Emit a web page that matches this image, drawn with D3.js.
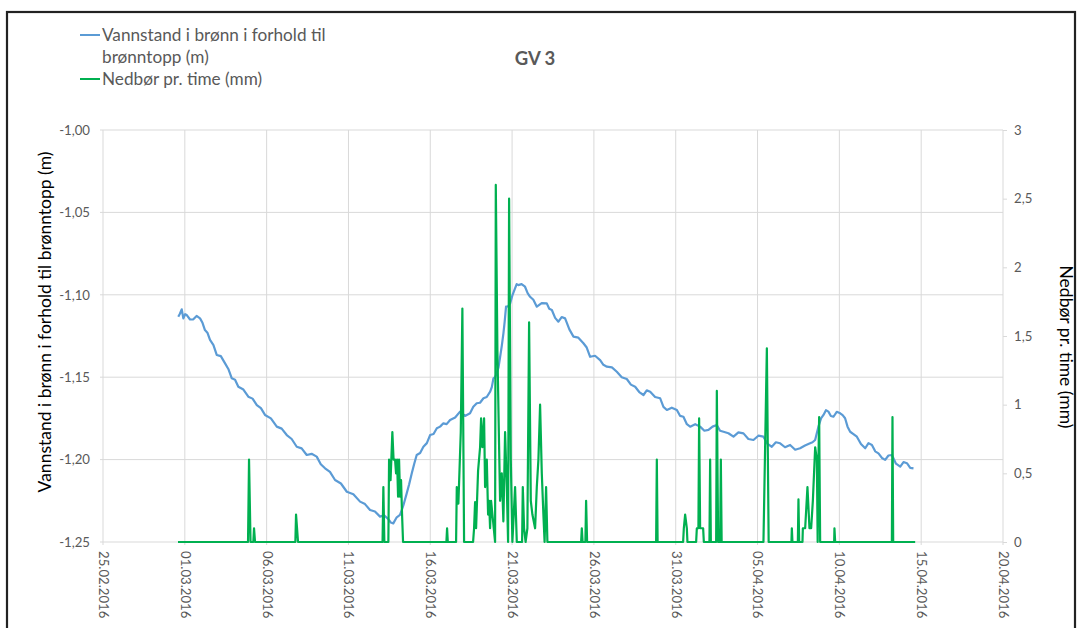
<!DOCTYPE html>
<html>
<head>
<meta charset="utf-8">
<script src="https://cdn.jsdelivr.net/npm/d3@7"></script>
<style>
  body { margin: 0; background: #fff; }
  svg { display: block; font-family: Lato, "Open Sans", sans-serif; }
</style>
</head>
<body>
<div id="chart"></div>
<script>
const chartTitle = 'GV 3';
const levelName = 'Vannstand i brønn i forhold til brønntopp (m)';
const rainName = 'Nedbør pr. time (mm)';
const legendLines = [['Vannstand i brønn i forhold til', 'brønntopp (m)'], ['Nedbør pr. time (mm)']];

const startDate = '25.02.2016';
const dateTicks = ['25.02.2016', '01.03.2016', '06.03.2016', '11.03.2016', '16.03.2016', '21.03.2016',
  '26.03.2016', '31.03.2016', '05.04.2016', '10.04.2016', '15.04.2016', '20.04.2016'];
const levelTicks = [-1.25, -1.20, -1.15, -1.10, -1.05, -1.00];
const rainTicks = [0, 0.5, 1, 1.5, 2, 2.5, 3];

// time in days after 25.02.2016 00:00
const levelDays = [
  4.60, 4.70, 4.81, 4.91, 5.02, 5.12, 5.32, 5.52, 5.72, 5.93, 6.08, 6.23, 6.38, 6.54, 6.75, 6.95,
  7.20, 7.46, 7.66, 7.87, 8.07, 8.27, 8.58, 8.88, 9.14, 9.40, 9.65, 9.90, 10.26, 10.62, 10.92, 11.23,
  11.53, 11.84, 12.14, 12.45, 12.75, 13.06, 13.31, 13.57, 13.87, 14.18, 14.54, 14.90, 15.30, 15.71,
  16.01, 16.32, 16.62, 16.93, 17.18, 17.44, 17.59, 17.74, 17.95, 18.15, 18.35, 18.56, 18.71, 18.87,
  19.02, 19.17, 19.38, 19.58, 19.79, 19.99, 20.20, 20.40, 20.60, 20.80, 21.00, 21.21, 21.52, 21.82,
  22.12, 22.43, 22.63, 22.84, 23.04, 23.25, 23.45, 23.66, 23.76, 23.86, 23.96, 24.06, 24.17, 24.27,
  24.37, 24.47, 24.55, 24.63, 24.75, 24.88, 25.03, 25.18, 25.28, 25.38, 25.58, 25.79, 25.95, 26.10,
  26.30, 26.51, 26.81, 27.12, 27.27, 27.43, 27.63, 27.83, 28.03, 28.24, 28.50, 28.75, 29.05, 29.36,
  29.56, 29.77, 30.07, 30.38, 30.58, 30.79, 31.10, 31.40, 31.70, 32.01, 32.26, 32.52, 32.77, 33.03,
  33.23, 33.44, 33.74, 34.05, 34.25, 34.46, 34.76, 35.07, 35.27, 35.47, 35.68, 35.88, 36.19, 36.49,
  36.75, 37.00, 37.25, 37.51, 37.71, 37.92, 38.22, 38.53, 38.83, 39.14, 39.44, 39.75, 40.05, 40.36,
  40.61, 40.87, 41.12, 41.38, 41.68, 41.99, 42.30, 42.60, 42.90, 43.21, 43.36, 43.52, 43.62, 43.72,
  43.88, 44.03, 44.18, 44.33, 44.48, 44.64, 44.84, 45.05, 45.20, 45.35, 45.50, 45.66, 45.86, 46.07,
  46.32, 46.58, 46.78, 46.99, 47.19, 47.39, 47.60, 47.80, 48.00, 48.21, 48.46, 48.72, 48.92, 49.13,
  49.33, 49.53
];
const levelValues = [
  -1.1133, -1.1115, -1.1088, -1.1143, -1.1118, -1.1123, -1.1150, -1.1149, -1.1128, -1.1143, -1.1170, -1.1214, -1.1230, -1.1274, -1.1305, -1.1365,
  -1.1372, -1.1416, -1.1450, -1.1507, -1.1515, -1.1558, -1.1575, -1.1618, -1.1630, -1.1669, -1.1688, -1.1729, -1.1750, -1.1800, -1.1812, -1.1851,
  -1.1875, -1.1922, -1.1932, -1.1972, -1.1965, -1.1982, -1.2028, -1.2053, -1.2075, -1.2124, -1.2145, -1.2195, -1.2210, -1.2255,
  -1.2270, -1.2306, -1.2315, -1.2346, -1.2338, -1.2362, -1.2382, -1.2387, -1.2350, -1.2336, -1.2280, -1.2205, -1.2150, -1.2083,
  -1.2025, -1.1972, -1.1960, -1.1922, -1.1900, -1.1851, -1.1845, -1.1810, -1.1800, -1.1780, -1.1785, -1.1760, -1.1745, -1.1709,
  -1.1735, -1.1719, -1.1680, -1.1658, -1.1655, -1.1628, -1.1620, -1.1588, -1.1560, -1.1507, -1.1500, -1.1476, -1.1440, -1.1376,
  -1.1310, -1.1234, -1.1160, -1.1072, -1.1070, -1.1052, -1.1000, -1.0961, -1.0935, -1.0941, -1.0935, -1.0951, -1.0990, -1.1012,
  -1.1030, -1.1072, -1.1050, -1.1052, -1.1085, -1.1092, -1.1140, -1.1163, -1.1135, -1.1143, -1.1210, -1.1254, -1.1260, -1.1294,
  -1.1320, -1.1376, -1.1370, -1.1396, -1.1425, -1.1436, -1.1440, -1.1467, -1.1500, -1.1511, -1.1545, -1.1558, -1.1590, -1.1608,
  -1.1580, -1.1588, -1.1620, -1.1628, -1.1680, -1.1699, -1.1685, -1.1699, -1.1735, -1.1740, -1.1785, -1.1800, -1.1785, -1.1800,
  -1.1825, -1.1820, -1.1800, -1.1790, -1.1825, -1.1831, -1.1840, -1.1861, -1.1835, -1.1841, -1.1875, -1.1881, -1.1855, -1.1861,
  -1.1905, -1.1922, -1.1895, -1.1901, -1.1925, -1.1911, -1.1940, -1.1931, -1.1915, -1.1901, -1.1895, -1.1881, -1.1840, -1.1800,
  -1.1750, -1.1729, -1.1700, -1.1709, -1.1735, -1.1740, -1.1710, -1.1719, -1.1730, -1.1749, -1.1800, -1.1831, -1.1845, -1.1861,
  -1.1905, -1.1931, -1.1900, -1.1911, -1.1950, -1.1962, -1.1990, -1.2002, -1.1975, -1.1972, -1.2025, -1.2043, -1.2015, -1.2022,
  -1.2050, -1.2053
];

const rainDays = [
  4.584, 8.863, 8.924, 9.016, 9.187, 9.230, 9.291, 11.755, 11.797, 11.858, 11.919,
  17.084, 17.133, 17.194, 17.439, 17.482, 17.573, 17.683, 17.757, 17.848, 17.910, 17.971, 18.032, 18.093, 18.154, 18.215, 18.276, 18.337,
  20.985, 21.027, 21.070, 21.577, 21.620, 21.718, 21.864, 21.962, 22.066,
  22.616, 22.677, 22.738, 22.800, 22.922, 23.044, 23.105, 23.185, 23.289, 23.350, 23.454, 23.533, 23.594, 23.655, 23.716, 23.839, 23.961,
  24.004, 24.102, 24.205, 24.266, 24.370, 24.468, 24.572, 24.676, 24.756, 24.817, 24.921, 25.018, 25.183, 25.287,
  25.611, 25.654, 25.733, 25.825, 25.935, 26.039, 26.143, 26.241, 26.406, 26.510, 26.608, 26.711, 26.815, 26.913, 26.986, 27.078, 27.158,
  29.218, 29.261, 29.309, 29.480, 29.523, 29.584, 33.802, 33.845, 33.893,
  35.452, 35.495, 35.575, 35.679, 35.716, 36.247, 36.290, 36.387, 36.430, 36.491, 36.675, 36.718,
  37.060, 37.103, 37.146, 37.470, 37.512, 37.592, 37.714, 37.757, 37.806, 40.361, 40.569, 40.679,
  42.072, 42.096, 42.133, 42.463, 42.500, 42.543, 42.745, 42.769, 42.910, 43.050, 43.173, 43.276, 43.380, 43.521, 43.625, 43.674, 43.723, 43.765, 43.826,
  44.682, 44.700, 44.743, 48.209, 48.246, 48.289, 49.633
];
const rainValues = [
  0, 0, 0.6, 0, 0, 0.1, 0, 0, 0.2, 0.1, 0,
  0, 0.4, 0, 0, 0.6, 0.45, 0.8, 0.6, 0.6, 0.5, 0.6, 0.33, 0.6, 0.33, 0.45, 0.2, 0,
  0, 0.1, 0, 0, 0.4, 0.28, 0.8, 1.7, 0,
  0, 0.1, 0.29, 0.1, 0.52, 0.69, 0.9, 0.69, 0.9, 0.4, 0.6, 0.2, 0.3, 0.1, 0.3, 0.15, 0,
  2.6, 1.4, 0.7, 0.3, 0.5, 0.15, 0.8, 0.4, 0, 2.5, 0.6, 0, 0.4, 0,
  0, 0.4, 0.1, 0, 0.1, 1.6, 0.3, 0.2, 0.1, 0.4, 0.6, 1.0, 0.5, 0.2, 0, 0.4, 0,
  0, 0.1, 0, 0, 0.3, 0, 0, 0.6, 0,
  0, 0.1, 0.2, 0.1, 0, 0, 0.1, 0.1, 0.9, 0.1, 0.1, 0,
  0, 0.6, 0, 0, 1.1, 0, 0, 0.6, 0, 0, 1.41, 0,
  0, 0.1, 0, 0, 0.31, 0, 0, 0.1, 0.1, 0.4, 0.1, 0.1, 0.3, 0.69, 0.6, 0, 0.6, 0.91, 0,
  0, 0.1, 0, 0, 0.91, 0, 0
];

const width = 1080;
const height = 628;
const margins = { top: 130, right: 77, bottom: 86, left: 103 };
const plotW = width - margins.left - margins.right;
const plotH = height - margins.top - margins.bottom;

const textColor = '#595959';
const gridColor = '#d9d9d9';
const blue = '#5b9bd5';
const green = '#00b050';

const nb = d3.formatLocale({ decimal: ',', thousands: ' ', grouping: [3], currency: ['', ' kr'], minus: '-' });
const parseDate = d3.utcParse('%d.%m.%Y');
const t0 = parseDate(startDate);
const dayToDate = d => new Date(t0.getTime() + d * 864e5);

const levelData = levelDays.map((d, i) => ({ date: dayToDate(d), value: levelValues[i] }));
const rainData = rainDays.map((d, i) => ({ date: dayToDate(d), value: rainValues[i] }));
const tickDates = dateTicks.map(parseDate);

const svg = d3.select('#chart')
  .append('svg')
  .attr('width', width)
  .attr('height', height);

// frame
svg.append('rect')
  .attr('x', 7).attr('y', 12)
  .attr('width', 1068).attr('height', 640)
  .attr('fill', 'none')
  .attr('stroke', '#222')
  .attr('stroke-width', 2.2);

const g = svg.append('g')
  .attr('transform', `translate(${margins.left},${margins.top})`);

const x = d3.scaleUtc()
  .domain([tickDates[0], tickDates[tickDates.length - 1]])
  .range([0, plotW]);

const yLeft = d3.scaleLinear()
  .domain([-1.25, -1.00])
  .range([plotH, 0]);

const yRight = d3.scaleLinear()
  .domain([0, 3])
  .range([plotH, 0]);

// grid
g.append('g')
  .selectAll('line')
  .data(levelTicks)
  .enter()
  .append('line')
  .attr('x1', -3).attr('x2', plotW)
  .attr('y1', d => yLeft(d)).attr('y2', d => yLeft(d))
  .attr('stroke', gridColor)
  .attr('stroke-width', 1);

g.append('g')
  .selectAll('line')
  .data(tickDates)
  .enter()
  .append('line')
  .attr('x1', d => x(d)).attr('x2', d => x(d))
  .attr('y1', 0).attr('y2', plotH + 3)
  .attr('stroke', gridColor)
  .attr('stroke-width', 1);

// axes
const leftAxis = g.append('g')
  .call(d3.axisLeft(yLeft).tickValues(levelTicks).tickFormat(nb.format('.2f')).tickSize(0).tickPadding(13));

const rightAxis = g.append('g')
  .attr('transform', `translate(${plotW},0)`)
  .call(d3.axisRight(yRight).tickValues(rainTicks).tickFormat(nb.format('~g')).tickSize(4).tickPadding(7));

const bottomAxis = g.append('g')
  .attr('transform', `translate(0,${plotH})`)
  .call(d3.axisBottom(x).tickValues(tickDates).tickFormat(d3.utcFormat('%d.%m.%Y')).tickSize(0));

[leftAxis, rightAxis, bottomAxis].forEach(a => {
  a.select('.domain').remove();
  a.selectAll('.tick line').attr('stroke', gridColor);
  a.selectAll('.tick text')
    .style('font-family', 'Lato, "Open Sans", sans-serif')
    .style('font-size', '13.2px')
    .attr('fill', textColor);
});

bottomAxis.selectAll('.tick text')
  .attr('transform', 'rotate(90)')
  .attr('x', 9)
  .attr('y', 0)
  .attr('dy', '0.35em')
  .style('text-anchor', 'start');

// series
const levelLine = d3.line()
  .x(d => x(d.date))
  .y(d => yLeft(d.value));

const rainLine = d3.line()
  .x(d => x(d.date))
  .y(d => yRight(d.value));

g.append('path')
  .datum(levelData)
  .attr('fill', 'none')
  .attr('stroke', blue)
  .attr('stroke-width', 2.2)
  .attr('stroke-linejoin', 'round')
  .attr('d', levelLine);

g.append('path')
  .datum(rainData)
  .attr('fill', 'none')
  .attr('stroke', green)
  .attr('stroke-width', 2.2)
  .attr('stroke-linejoin', 'round')
  .attr('d', rainLine);

// axis titles
svg.append('text')
  .attr('transform', `translate(51,322) rotate(-90)`)
  .attr('text-anchor', 'middle')
  .style('font-size', '17.5px')
  .attr('fill', '#000')
  .text(levelName);

svg.append('text')
  .attr('transform', `translate(1060,347) rotate(90)`)
  .attr('text-anchor', 'middle')
  .style('font-size', '17.5px')
  .attr('fill', '#000')
  .text(rainName);

// title
svg.append('text')
  .attr('x', 535)
  .attr('y', 65)
  .attr('text-anchor', 'middle')
  .style('font-size', '18.5px')
  .style('font-weight', 'bold')
  .attr('fill', textColor)
  .text(chartTitle);

// legend
const legend = svg.append('g').attr('transform', 'translate(80,35)');
const legendColors = [blue, green];
let ly = 0;
legendLines.forEach((lines, i) => {
  legend.append('line')
    .attr('x1', 0).attr('x2', 20)
    .attr('y1', ly).attr('y2', ly)
    .attr('stroke', legendColors[i])
    .attr('stroke-width', 2);
  lines.forEach((t, j) => {
    legend.append('text')
      .attr('x', 22)
      .attr('y', ly + j * 22)
      .attr('dy', '0.35em')
      .style('font-size', '17.2px')
      .attr('fill', textColor)
      .text(t);
  });
  ly += lines.length * 22;
});
</script>
</body>
</html>
